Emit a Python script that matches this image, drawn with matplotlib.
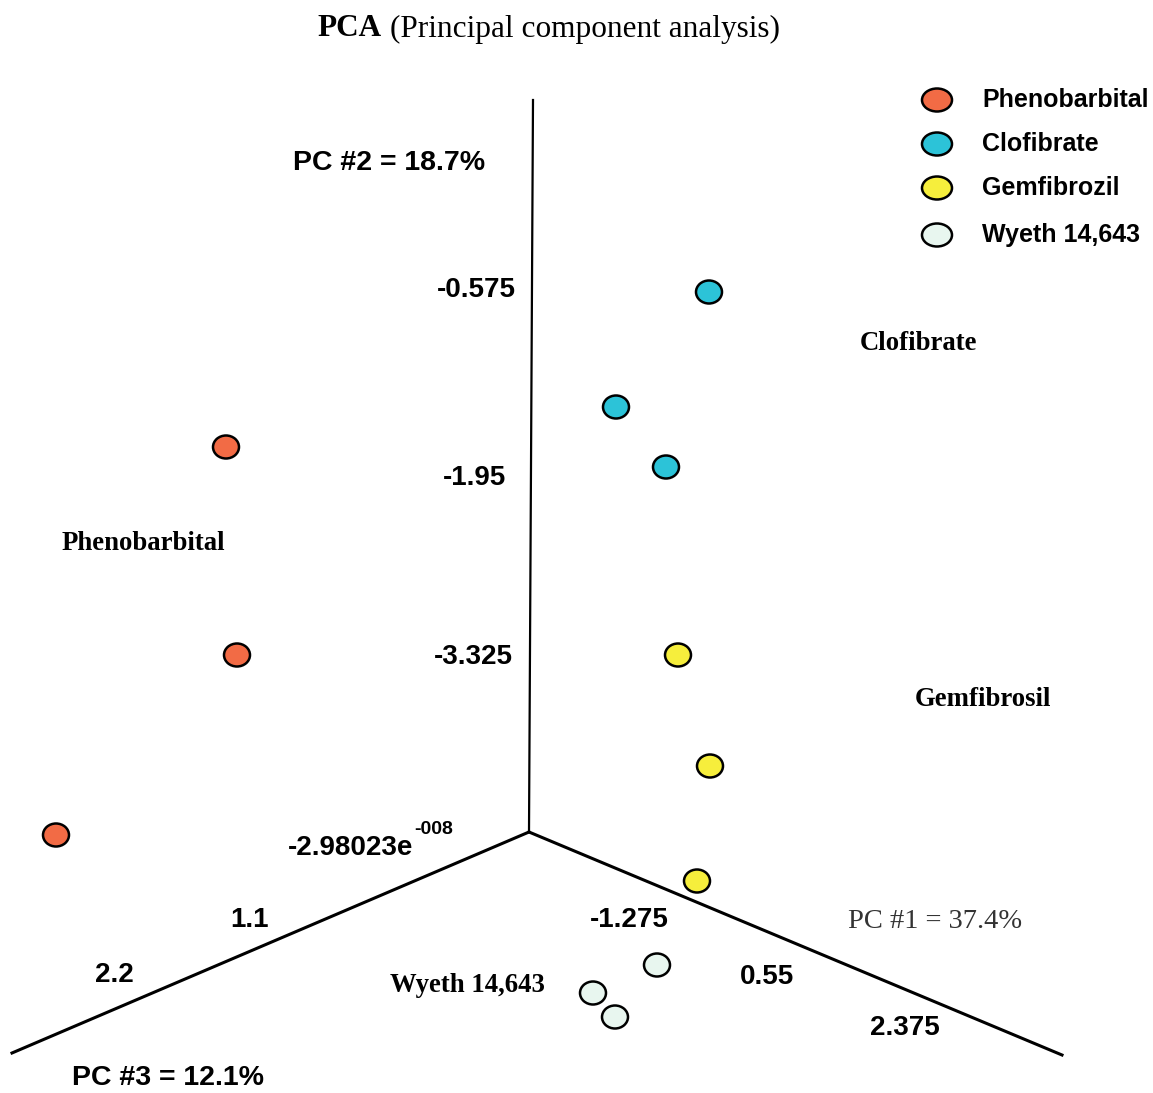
import matplotlib.pyplot as plt
from matplotlib.patches import Ellipse

# projected positions of the samples on the pseudo-3D plot (pixel space)
pheno_x = [226, 237, 56]
pheno_y = [447, 655, 835]
clof_x = [709, 616, 666]
clof_y = [292, 407, 467]
gemf_x = [678, 710, 697]
gemf_y = [655, 766, 881]
wyeth_x = [657, 593, 615]
wyeth_y = [965, 993, 1017]

groups = ["Phenobarbital", "Clofibrate", "Gemfibrozil", "Wyeth 14,643"]
colors = ["#F26B45", "#2CC3D8", "#F6EE3C", "#E8F6EF"]

# tick labels along each axis
pc2_ticks = ["-0.575", "-1.95", "-3.325"]
pc3_ticks = ["1.1", "2.2"]
pc1_ticks = ["-1.275", "0.55", "2.375"]

sans = ["Liberation Sans", "DejaVu Sans"]
serif = ["Liberation Serif", "DejaVu Serif"]

fig = plt.figure(figsize=(11.53, 10.93), dpi=100)
ax = fig.add_axes([0, 0, 1, 1])
ax.set_xlim(0, 1153)
ax.set_ylim(1093, 0)
ax.axis("off")

# axes of the 3D frame
ox, oy = 529, 832
ax.plot([ox, 533], [oy, 100], color="black", lw=1.6)
ax.plot([ox, 12], [oy, 1053], color="black", lw=2.2)
ax.plot([ox, 1062], [oy, 1055], color="black", lw=2.2)


def dots(xs, ys, c):
    for x, y in zip(xs, ys):
        ax.add_patch(Ellipse((x, y), 26, 23, facecolor=c, edgecolor="black",
                             lw=1.8, zorder=3))


dots(pheno_x, pheno_y, colors[0])
dots(clof_x, clof_y, colors[1])
dots(gemf_x, gemf_y, colors[2])
dots(wyeth_x, wyeth_y, colors[3])

# legend
for i, (g, c) in enumerate(zip(groups, colors)):
    ly = [100, 144, 188, 235][i]
    ax.add_patch(Ellipse((937, ly), 30, 23, facecolor=c, edgecolor="black",
                         lw=1.8, zorder=3))
    ax.text(982, ly, g, family=sans, fontweight="bold", fontsize=18,
            va="center", ha="left")

# title
ax.text(317, 29, "PCA", family=serif, fontweight="bold", fontsize=22.5,
        va="center", ha="left")
ax.text(390, 29, "(Principal component analysis)", family=serif, fontsize=22.5,
        va="center", ha="left")

# axis titles
ax.text(293, 163, "PC #2 = 18.7%", family=sans, fontweight="bold",
        fontsize=20.5, va="center", ha="left")
ax.text(72, 1078, "PC #3 = 12.1%", family=sans, fontweight="bold",
        fontsize=20.5, va="center", ha="left")
ax.text(848, 922, "PC #1 = 37.4%", family=serif, fontsize=20.5,
        va="center", ha="left", color="#333333")

# tick labels
for t, (x, y) in zip(pc2_ticks, [(476, 290), (475, 478), (473, 657)]):
    ax.text(x, y, t, family=sans, fontweight="bold", fontsize=20,
            ha="center", va="center")
ax.text(288, 848, "-2.98023e", family=sans, fontweight="bold", fontsize=20,
        ha="left", va="center")
ax.text(414, 830, "-008", family=sans, fontweight="bold", fontsize=14,
        ha="left", va="center")
for t, (x, y) in zip(pc3_ticks, [(250, 920), (114, 975)]):
    ax.text(x, y, t, family=sans, fontweight="bold", fontsize=20,
            ha="center", va="center")
for t, (x, y) in zip(pc1_ticks, [(629, 920), (767, 977), (905, 1028)]):
    ax.text(x, y, t, family=sans, fontweight="bold", fontsize=20,
            ha="center", va="center")

# group annotations
for t, (x, y) in zip(["Clofibrate", "Phenobarbital", "Gemfibrosil", "Wyeth 14,643"],
                     [(860, 343), (62, 543), (915, 699), (390, 985)]):
    ax.text(x, y, t, family=serif, fontweight="bold", fontsize=19.3,
            ha="left", va="center")

fig.savefig("out.png", dpi=100)
